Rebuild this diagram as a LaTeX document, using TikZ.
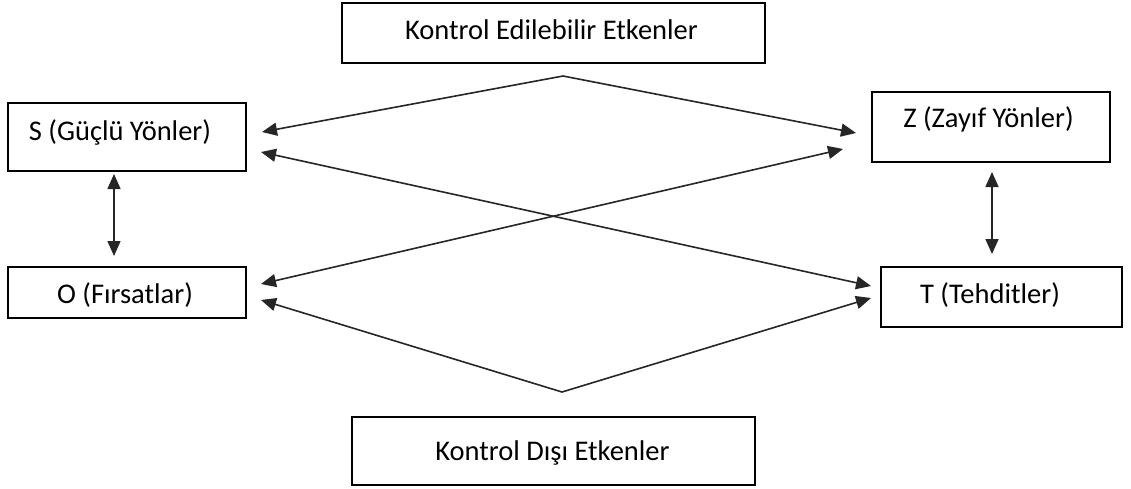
\documentclass[tikz,border=0pt]{standalone}
\usepackage{fontspec}
\setmainfont{Carlito}
\usetikzlibrary{arrows.meta}
\begin{document}
\begin{tikzpicture}[x=1pt,y=-1pt,
  box/.style={draw=black,line width=1.6pt,minimum width=#1,inner sep=0pt},
  lbl/.style={anchor=base,inner sep=0pt,font=\fontsize{28.5}{34}\selectfont},
  arr/.style={line width=1.6pt,draw=black!85,{Triangle[length=15pt,width=13pt]}-{Triangle[length=15pt,width=13pt]}}]
\useasboundingbox (0,0) rectangle (1131,488);
% boxes
\node[box=423pt,minimum height=60pt] (K) at (553.5,33) {};
\node[box=238pt,minimum height=68pt] (S) at (127,137) {};
\node[box=238pt,minimum height=51pt] (O) at (127,292.5) {};
\node[box=238pt,minimum height=70pt] (Z) at (991,127) {};
\node[box=241pt,minimum height=60pt] (T) at (1001.5,297) {};
\node[box=403pt,minimum height=68pt] (D) at (553.5,451) {};
% labels
\node[lbl] (Kt) at (551.5,39) {Kontrol Edilebilir Etkenler};
\node[lbl] (St) at (120,140.5) {S (Güçlü Yönler)};
\node[lbl] (Ot) at (125,303) {O (Fırsatlar)};
\node[lbl] (Zt) at (988.5,127) {Z (Zayıf Yönler)};
\node[lbl] (Tt) at (990,303) {T (Tehditler)};
\node[lbl] (Dt) at (552.5,460) {Kontrol Dışı Etkenler};
% connector points
\coordinate (A1) at (563,76);
\coordinate (A2) at (562,392);
\coordinate (S1) at (262,132);
\coordinate (S2) at (261,152);
\coordinate (Z1) at (856,133);
\coordinate (Z2) at (843,149);
\coordinate (O1) at (261,284);
\coordinate (O2) at (261,300);
\coordinate (T1) at (871,286);
\coordinate (T2) at (871,298);
\coordinate (SO1) at (114,174);
\coordinate (SO2) at (114,256);
\coordinate (ZT1) at (992,172);
\coordinate (ZT2) at (992,254);
% connectors
\draw[arr] (S1) -- (A1) -- (Z1);
\draw[arr] (O2) -- (A2) -- (T2);
\draw[arr] (S2) -- (T1);
\draw[arr] (O1) -- (Z2);
\draw[arr] (SO1) -- (SO2);
\draw[arr] (ZT1) -- (ZT2);
\end{tikzpicture}
\end{document}
